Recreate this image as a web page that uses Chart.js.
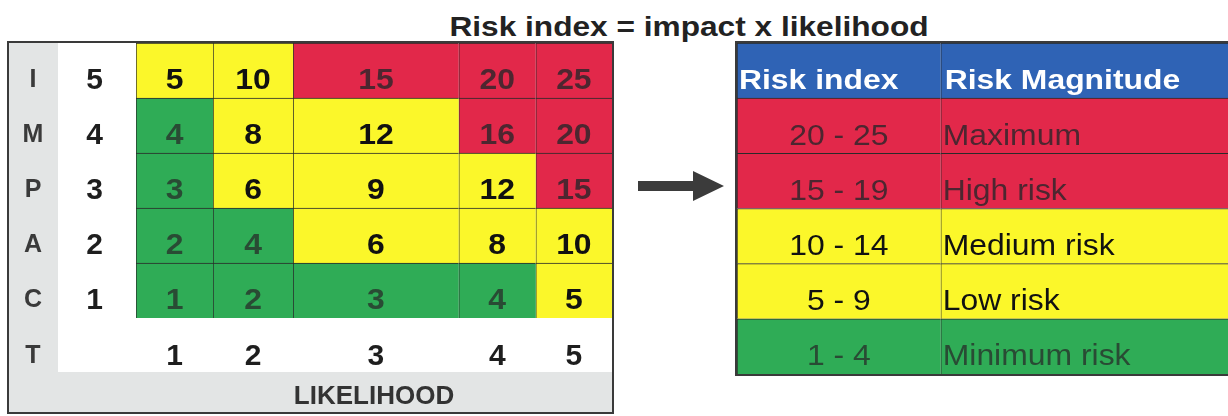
<!DOCTYPE html>
<html>
<head>
<meta charset="utf-8">
<script src="https://cdn.jsdelivr.net/npm/chart.js@4.4.1/dist/chart.umd.min.js"></script>
<style>
  html, body { margin: 0; padding: 0; background: #fff; width: 1228px; height: 416px; overflow: hidden; }
  .title {
    position: absolute; left: 689px; top: 13px; white-space: nowrap;
    font: bold 28px "Liberation Sans", Arial, sans-serif; line-height: 28px; color: #222;
    transform: translateX(-50%) scaleX(1.13); transform-origin: center;
  }
  #matrixBox {
    position: absolute; left: 7px; top: 41px; width: 603px; height: 369px;
    border: 2px solid #3a3a3a;
  }
  #legendBox {
    position: absolute; left: 735px; top: 41px; width: 493px; height: 331px;
    border: 2px solid #3a3a3a; border-right: none;
  }
  canvas { display: block; }
  #arrow { position: absolute; left: 630px; top: 165px; }
</style>
</head>
<body>
<div class="title">Risk index = impact x likelihood</div>
<div id="matrixBox"><canvas id="matrix" width="603" height="369"></canvas></div>
<svg id="arrow" width="100" height="45" viewBox="630 165 100 45">
  <polygon points="638,181 693,181 693,171 724,186 693,201 693,191 638,191" fill="#3b3b3b"/>
</svg>
<div id="legendBox"><canvas id="legend" width="493" height="331"></canvas></div>

<script>
// ---- data ----
const impactLabels = ['5', '4', '3', '2', '1'];
const likelihoodLevels = [1, 2, 3, 4, 5];
const riskImpact5 = [5, 10, 15, 20, 25];
const riskImpact4 = [4, 8, 12, 16, 20];
const riskImpact3 = [3, 6, 9, 12, 15];
const riskImpact2 = [2, 4, 6, 8, 10];
const riskImpact1 = [1, 2, 3, 4, 5];
const impactLetters = ['I', 'M', 'P', 'A', 'C', 'T'];
const likelihoodTitle = 'LIKELIHOOD';

const tableHeader = ['Risk index', 'Risk Magnitude'];
const bandRanges = ['20 - 25', '15 - 19', '10 - 14', '5 - 9', '1 - 4'];
const bandNames = ['Maximum', 'High risk', 'Medium risk', 'Low risk', 'Minimum risk'];
const bandFloors = [20, 15, 10, 5, 1];

// ---- styles ----
const FONT = '"Liberation Sans", Arial, sans-serif';
const RED = '#e2284a', YELLOW = '#fbf72a', GREEN = '#2fac56', BLUE = '#2f63b5', STRIP = '#e3e5e5';
const bandFill = [RED, RED, YELLOW, YELLOW, GREEN];
const bandInk = ['rgba(50,38,44,0.85)', 'rgba(50,38,44,0.85)', '#111', '#111', 'rgba(40,58,46,0.85)'];
const LINE = '#2a2a2a';

const riskRows = [riskImpact5, riskImpact4, riskImpact3, riskImpact2, riskImpact1];
const bandOf = v => bandFloors.findIndex(f => v >= f);

// Linear scale whose unit bands can have unequal widths (used for table columns)
function makeBandScale(id, weights) {
  const total = weights.reduce((a, b) => a + b, 0);
  return class extends Chart.LinearScale {
    static id = id;
    static defaults = Chart.LinearScale.defaults;
    getPixelForValue(value) {
      if (value === null || value === undefined) return NaN;
      const u = value - this.min;
      const i = Math.max(0, Math.min(weights.length - 1, Math.floor(u)));
      let acc = 0;
      for (let k = 0; k < i; k++) acc += weights[k];
      acc += (u - i) * weights[i];
      return this.getPixelForDecimal(acc / total);
    }
  };
}
Chart.register(makeBandScale('matrixColumns', [1, 1.04, 2.15, 1, 0.99]));
Chart.register(makeBandScale('tableColumns', [1, 1.42]));

// fixed axis sizes, without the extra label padding Chart.js reserves at the ends
function fixAxis(size) {
  return s => {
    if (s.isHorizontal()) s.height = size; else s.width = size;
    s.paddingTop = 0; s.paddingBottom = 0; s.paddingLeft = 0; s.paddingRight = 0;
  };
}

function stretchedText(ctx, text, x, y, align, sx) {
  ctx.save();
  ctx.translate(x, y);
  ctx.scale(sx, 1);
  ctx.textAlign = align;
  ctx.fillText(text, 0, 0);
  ctx.restore();
}

const TEXT_DROP = 10;   // labels sit a little below the cell middle

// ---- risk matrix ----
const matrixDecor = {
  id: 'matrixDecor',
  beforeDraw(chart) {
    const { ctx, width, height } = chart;
    ctx.save();
    ctx.fillStyle = '#fff';
    ctx.fillRect(0, 0, width, height);
    ctx.fillStyle = STRIP;
    ctx.fillRect(0, 0, 49, height);
    ctx.fillRect(0, 329, width, height - 329);
    ctx.restore();
  },
  afterDatasetsDraw(chart) {
    const { ctx } = chart;
    ctx.save();
    ctx.textBaseline = 'middle';
    ctx.font = 'bold 29px ' + FONT;
    chart.data.datasets.forEach((ds, c) => {
      chart.getDatasetMeta(c).data.forEach((bar, r) => {
        const { x, y, base } = bar.getProps(['x', 'y', 'base'], true);
        const v = riskRows[r][c];
        ctx.fillStyle = bandInk[bandOf(v)];
        stretchedText(ctx, String(v), (x + base) / 2, y + TEXT_DROP, 'center', 1.1);
      });
    });
    ctx.restore();
  },
  afterDraw(chart) {
    const { ctx } = chart;
    const yS = chart.scales.y;
    ctx.save();
    ctx.font = 'bold 25px ' + FONT;
    ctx.fillStyle = '#3a3a3a';
    ctx.textAlign = 'center';
    ctx.textBaseline = 'middle';
    impactLetters.forEach((ch, i) => {
      const y = i < impactLabels.length ? yS.getPixelForTick(i) + TEXT_DROP : 313;
      ctx.fillText(ch, 24, y);
    });
    ctx.restore();
  }
};

new Chart(document.getElementById('matrix'), {
  type: 'bar',
  data: {
    labels: impactLabels,
    datasets: likelihoodLevels.map((l, c) => ({
      label: 'Likelihood ' + l,
      data: riskRows.map(() => [l - 0.5, l + 0.5]),
      backgroundColor: riskRows.map(row => bandFill[bandOf(row[c])]),
      borderColor: LINE,
      borderWidth: { top: 1, left: 1, right: 0, bottom: 0 },
      borderSkipped: false,
      grouped: false,
      barPercentage: 1,
      categoryPercentage: 1
    }))
  },
  options: {
    indexAxis: 'y',
    responsive: false,
    animation: false,
    events: [],
    layout: { padding: 0, autoPadding: false },
    plugins: { legend: { display: false }, title: { display: false }, tooltip: { enabled: false } },
    scales: {
      x: {
        type: 'matrixColumns',
        min: 0.5, max: 5.5,
        afterBuildTicks: s => { s.ticks = likelihoodLevels.map(v => ({ value: v })); },
        afterFit: fixAxis(94),
        grid: { display: false, drawTicks: false },
        border: { display: false },
        ticks: {
          autoSkip: false, maxRotation: 0,
          callback: v => String(v),
          font: { family: FONT, size: 30, weight: 'bold' },
          color: '#1e1e1e',
          padding: 21
        },
        title: {
          display: true, text: likelihoodTitle,
          font: { family: FONT, size: 26, weight: 'bold' },
          color: '#333',
          padding: { top: 0, bottom: 0 }
        }
      },
      y: {
        type: 'category',
        afterFit: fixAxis(127),
        grid: { display: false, drawTicks: false },
        border: { display: false },
        ticks: {
          font: { family: FONT, size: 30, weight: 'bold' },
          color: '#1e1e1e',
          padding: 33,
          labelOffset: TEXT_DROP
        }
      }
    }
  },
  plugins: [matrixDecor]
});

// ---- risk magnitude table ----
const tableRows = ['header'].concat(bandRanges);
const tableText = {
  id: 'tableText',
  afterDatasetsDraw(chart) {
    const { ctx } = chart;
    ctx.save();
    ctx.textBaseline = 'middle';
    const cols = [0, 1].map(c => chart.getDatasetMeta(c).data);
    tableRows.forEach((_, r) => {
      const a = cols[0][r].getProps(['x', 'y', 'base'], true);
      const b = cols[1][r].getProps(['x', 'y', 'base'], true);
      const y = a.y + TEXT_DROP + 1;
      if (r === 0) {
        ctx.font = 'bold 27px ' + FONT;
        ctx.fillStyle = '#fff';
        stretchedText(ctx, tableHeader[0], a.base + 2, y, 'left', 1.18);
        stretchedText(ctx, tableHeader[1], b.base + 4, y, 'left', 1.18);
      } else {
        const k = r - 1;
        ctx.font = '29px ' + FONT;
        ctx.fillStyle = bandInk[k];
        stretchedText(ctx, bandRanges[k], (a.x + a.base) / 2, y, 'center', 1.1);
        stretchedText(ctx, bandNames[k], b.base + 2, y, 'left', 1.1);
      }
    });
    ctx.restore();
  }
};

new Chart(document.getElementById('legend'), {
  type: 'bar',
  data: {
    labels: tableRows,
    datasets: [1, 2].map(c => ({
      label: tableHeader[c - 1],
      data: tableRows.map(() => [c - 0.5, c + 0.5]),
      backgroundColor: [BLUE].concat(bandFill),
      borderColor: LINE,
      borderWidth: { top: 1, left: 1, right: 0, bottom: 0 },
      borderSkipped: false,
      grouped: false,
      barPercentage: 1,
      categoryPercentage: 1
    }))
  },
  options: {
    indexAxis: 'y',
    responsive: false,
    animation: false,
    events: [],
    layout: { padding: 0, autoPadding: false },
    plugins: { legend: { display: false }, title: { display: false }, tooltip: { enabled: false } },
    scales: {
      x: { type: 'tableColumns', min: 0.5, max: 2.5, display: false },
      y: { type: 'category', display: false }
    }
  },
  plugins: [tableText]
});
</script>
</body>
</html>
